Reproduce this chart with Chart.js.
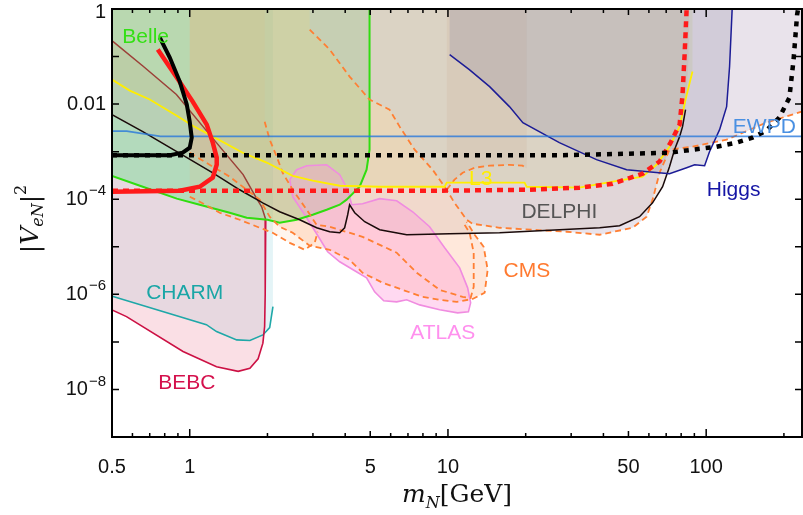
<!DOCTYPE html>
<html>
<head>
<meta charset="utf-8">
<script src="https://cdn.jsdelivr.net/npm/chart.js@4.4.1/dist/chart.umd.min.js"></script>
<style>
  body { margin: 0; background: #fff; }
</style>
</head>
<body>
<canvas id="c" width="803" height="515"></canvas>
<script>
// ---- curves (x = m_N in GeV, y = |V_eN|^2) ----
const charmX = [0.45, 0.505, 1.16, 1.27, 1.52, 1.71, 1.92, 2.04, 2.10];
const charmY = [1.0e-6, 9.0e-7, 2.3e-7, 1.65e-7, 1.1e-7, 1.07e-7, 1.4e-7, 2.0e-7, 5.5e-7];

const bebcTopX = [0.45, 0.512, 0.66, 0.888, 1.195, 1.61, 1.81, 1.90, 1.97];
const bebcTopY = [0.35, 0.194, 0.0625, 0.0159, 2.28e-3, 3.3e-4, 1.07e-4, 6.9e-5, 3.7e-5];
const bebcLowX = [1.97, 1.96, 1.95, 1.92, 1.84, 1.71, 1.54, 1.27, 0.942, 0.569, 0.5, 0.45];
const bebcLowY = [3.7e-5, 1.0e-6, 2.1e-7, 9.4e-8, 4.4e-8, 2.8e-8, 2.4e-8, 3.0e-8, 6.3e-8, 3.4e-7, 4.7e-7, 6.0e-7];

const belleX = [0.5, 0.658, 0.891, 1.093, 1.428, 1.662, 2.0, 2.23, 2.595, 2.993, 3.39, 3.81, 4.05, 4.55, 4.84, 4.97, 4.97];
const belleY = [3.1e-4, 1.83e-4, 1.03e-4, 7.66e-5, 5.2e-5, 4.07e-5, 3.7e-5, 3.2e-5, 3.7e-5, 4.72e-5, 6.0e-5, 7.66e-5, 9.8e-5, 1.83e-4, 4.18e-4, 1.1e-3, 1.5];

const delphiX = [0.5, 0.658, 0.891, 1.228, 1.561, 1.917, 2.23, 2.666, 3.10, 3.483, 3.81, 3.98, 4.09, 4.16, 4.355, 4.76, 5.44, 6.92, 10.15, 15.85, 27.05, 38.7, 46.2, 55.2, 62.0, 67.8, 72.1, 75.4, 78.9, 81.0, 83.2];
const delphiY = [6.0e-3, 2.64e-3, 1.0e-3, 3.6e-4, 1.58e-4, 8.4e-5, 5.45e-5, 3.7e-5, 2.51e-5, 2.07e-5, 1.97e-5, 2.51e-5, 4.72e-5, 7.66e-5, 5.2e-5, 3.36e-5, 2.28e-5, 1.79e-5, 1.88e-5, 1.97e-5, 2.28e-5, 2.51e-5, 2.77e-5, 4.28e-5, 8.4e-5, 1.83e-4, 4.83e-4, 1.1e-3, 2.07e-3, 3.36e-3, 7.66e-3];

const l3X = [0.5, 0.586, 0.70, 0.891, 1.027, 1.206, 1.604, 1.986, 2.505, 2.993, 3.81, 5.44, 9.71, 9.89, 19.8, 20.17, 32.3, 43.4, 56.7, 64.2, 72.1, 78.9, 83.2, 88.5];
const l3Y = [0.0328, 0.0192, 0.0125, 5.7e-3, 3.5e-3, 2.2e-3, 9.5e-4, 5.9e-4, 3.1e-4, 2.45e-4, 1.92e-4, 1.83e-4, 1.83e-4, 2.23e-4, 2.23e-4, 1.83e-4, 1.75e-4, 2.34e-4, 2.98e-4, 5.3e-4, 1.27e-3, 3.36e-3, 0.01245, 0.0483];

const higgsX = [10.15, 12.1, 14.5, 17.3, 19.5, 27.0, 37.6, 49.2, 72.1, 84.0, 90.2, 98.6, 103, 112.7, 120, 123.2, 126.5];
const higgsY = [0.110, 0.0532, 0.0233, 8.86e-3, 4.08e-3, 1.55e-3, 6.8e-4, 4.18e-4, 3.44e-4, 4.6e-4, 5.3e-4, 5.07e-4, 1.0e-3, 2.9e-3, 8.86e-3, 0.0616, 1.5];

const ewpdX = [0.5, 0.57, 0.77, 240];
const ewpdY = [2.7e-3, 2.7e-3, 2.1e-3, 2.1e-3];

// CMS: upper edge, prompt lower edge, displaced contours
const cmsUpX = [2.914, 3.483, 4.16, 4.97, 5.94, 6.50, 7.43, 8.72, 9.89, 10.6, 11.81];
const cmsUpY = [0.37, 0.14, 0.0379, 0.01245, 7.66e-3, 3.36e-3, 1.1e-3, 4.18e-4, 1.58e-4, 8.4e-5, 3.7e-5];
const cmsLowX = [12.46, 15.85, 21.28, 28.8, 38.7, 51.9, 58.8, 62.0, 66.0, 72.1, 88.5, 120, 171, 234, 260];
const cmsLowY = [3.05e-5, 2.51e-5, 2.28e-5, 2.07e-5, 1.79e-5, 2.51e-5, 4.28e-5, 9.8e-5, 3.6e-4, 1.1e-3, 1.27e-3, 1.79e-3, 4.08e-3, 6.95e-3, 7.8e-3];
const cmsDispX = [1.0, 1.228, 1.428, 1.662, 1.866, 2.04, 2.23, 2.505, 2.914, 3.483, 4.16, 4.67, 5.59, 6.68, 7.98, 9.29, 10.81, 12.46, 13.87, 14.25, 13.75, 12.69, 11.81];
const cmsDispY = [9.5e-4, 4.83e-4, 2.98e-4, 1.58e-4, 9.8e-5, 4.28e-5, 2.64e-5, 1.97e-5, 1.05e-5, 8.65e-6, 5.3e-6, 2.84e-6, 1.75e-6, 1.24e-6, 8.86e-7, 7.66e-7, 6.95e-7, 8.0e-7, 1.08e-6, 3.28e-6, 1.0e-5, 1.79e-5, 3.36e-5];
const cmsAX = [1.951, 2.04, 2.173, 2.29, 2.505, 2.838, 3.10];
const cmsAY = [4.28e-3, 1.79e-3, 7.85e-4, 3.6e-4, 1.58e-4, 6.0e-5, 2.9e-5];
const cmsInX = [3.483, 4.67, 6.33, 7.57, 9.29, 11.4, 12.24, 12.58, 12.58, 12.13, 11.6];
const cmsInY = [2.64e-5, 1.62e-5, 7.5e-6, 2.84e-6, 1.24e-6, 8.86e-7, 8.4e-7, 1.44e-6, 7.5e-6, 1.97e-5, 2.9e-5];
const cmsCX = [1.0, 1.093, 1.306, 1.561, 1.866, 2.095, 2.44, 2.788, 3.047, 3.13];
const cmsCY = [1.13e-4, 8.86e-5, 5.2e-5, 3.7e-5, 2.51e-5, 1.97e-5, 1.21e-5, 8.65e-6, 1.21e-5, 2.07e-5];
const humpX = [9.89, 10.6, 11.4, 12.69, 14.5, 17.3, 19.46, 20.17];
const humpY = [1.58e-4, 2.58e-4, 3.6e-4, 4.6e-4, 5.07e-4, 5.3e-4, 5.07e-4, 4.4e-4];

const atlasX = [2.505, 2.44, 2.595, 2.838, 3.39, 3.81, 4.09, 4.24, 4.67, 5.44, 6.33, 7.30, 8.49, 9.71, 11.1, 11.92, 12.24, 12.0, 10.9, 9.29, 7.77, 6.92, 6.33, 5.64, 5.20, 4.84, 4.355, 3.81, 3.42, 3.10, 2.788, 2.505];
const atlasY = [1.13e-4, 2.58e-4, 4.18e-4, 5.07e-4, 5.3e-4, 3.28e-4, 1.58e-4, 7.66e-5, 8.0e-5, 1.03e-4, 9.3e-5, 5.45e-5, 2.64e-5, 9.5e-6, 3.6e-6, 1.37e-6, 6.62e-7, 4.28e-7, 4.08e-7, 4.72e-7, 6.0e-7, 7.66e-7, 6.95e-7, 7.3e-7, 1.13e-6, 2.22e-6, 3.13e-6, 4.83e-6, 7.85e-6, 1.88e-5, 4.72e-5, 1.13e-4];

// projections
const redX = [0.752, 0.891, 1.027, 1.164, 1.228, 1.272, 1.272, 1.228, 1.093, 0.915, 0.5];
const redY = [0.14, 0.0361, 0.0113, 3.7e-3, 1.55e-3, 7.48e-4, 5.3e-4, 2.84e-4, 1.83e-4, 1.51e-4, 1.44e-4];
const redDotX = [0.5, 9.29, 20.17, 32.3, 43.4, 56.7, 66.0, 72.8, 78.9, 81.0, 82.5, 84.0];
const redDotY = [1.51e-4, 1.51e-4, 1.58e-4, 1.75e-4, 2.12e-4, 3.44e-4, 6.2e-4, 1.55e-3, 3.7e-3, 0.0158, 0.11, 1];
const blkX = [0.766, 0.837, 0.915, 0.974, 1.0, 1.018, 1.0, 0.939, 0.837, 0.5];
const blkY = [0.251, 0.0953, 0.0298, 9.8e-3, 4.28e-3, 1.97e-3, 1.21e-3, 9.5e-4, 8.4e-4, 8.4e-4];
const blkDotX = [0.5, 27.05, 72.1, 88.5, 109.7, 131, 151, 171, 192, 210, 218, 225, 227];
const blkDotY = [8.4e-4, 8.4e-4, 9.5e-4, 1.1e-3, 1.27e-3, 1.55e-3, 1.97e-3, 2.77e-3, 5.2e-3, 0.0137, 0.0865, 0.766, 1];

// region names
const labelText = ['Belle', 'CHARM', 'BEBC', 'ATLAS', 'CMS', 'DELPHI', 'L3', 'Higgs', 'EWPD'];
const labelX = [0.675, 0.956, 0.974, 9.54, 20.2, 27.0, 13.4, 127.7, 168];
const labelY = [0.25, 1.08e-6, 1.37e-8, 1.55e-7, 3.1e-6, 5.45e-5, 2.58e-4, 1.58e-4, 3.2e-3];
const labelColor = ['#33e014', '#1aa6a6', '#d4104c', '#ff90ee', '#ff7a30', '#555555', '#ffee00', '#1515a5', '#4a90e2'];

// axes
const xTickVals = [0.5, 0.6, 0.7, 0.8, 0.9, 1, 2, 3, 4, 5, 6, 7, 8, 9, 10, 20, 30, 40, 50, 60, 70, 80, 90, 100, 200];
const xMajorVals = [1, 10, 100];
const xLabelVals = [0.5, 1, 5, 10, 50, 100];
const xLabelText = ['0.5', '1', '5', '10', '50', '100'];
const yTickVals = [1, 0.1, 0.01, 1e-3, 1e-4, 1e-5, 1e-6, 1e-7, 1e-8, 1e-9];
const yLabelVals = [1, 0.01, 1e-4, 1e-6, 1e-8];
const yLabelBase = ['1', '0.01', '10', '10', '10'];
const yLabelExp = ['', '', '\u22124', '\u22126', '\u22128'];

const pts = (xs, ys) => xs.map((x, i) => ({ x: x, y: ys[i] }));

const layers = [];  // bottom first
function area(data, color, border, width) {
    layers.push({ data: data, fill: 'shape', backgroundColor: color,
                  borderColor: border || 'transparent', borderWidth: width || 0 });
}
function curve(data, color, width, dash) {
    layers.push({ data: data, fill: false, borderColor: color, borderWidth: width, borderDash: dash || [] });
}

// filled regions
area(pts(charmX, charmY).concat(pts([2.10, 0.45], [2, 2])), 'rgba(167,217,230,0.3)');
area(pts(bebcTopX, bebcTopY).concat(pts(bebcLowX, bebcLowY).slice(1)), 'rgba(240,150,170,0.3)');
area(pts(belleX, belleY).concat(pts([4.97, 0.45, 0.45], [2, 2, 3.1e-4])), 'rgba(80,220,120,0.35)');
area(pts(cmsDispX, cmsDispY).concat(pts(cmsUpX, cmsUpY).reverse(), pts([2.914, 1.0], [2, 2])), 'rgba(255,165,110,0.25)');
area(pts([1.951], [2]).concat(pts(cmsAX, cmsAY), pts(cmsCX, cmsCY).reverse(), pts([1.0], [2])), 'rgba(255,170,110,0.12)');
area(pts(cmsUpX, cmsUpY).concat(pts(cmsLowX, cmsLowY), pts([260, 2.914], [2, 2])), 'rgba(200,185,205,0.4)');
area(pts(humpX, humpY).concat(pts([20.17, 9.89], [2, 2])), 'rgba(170,110,90,0.12)');
area(pts(l3X, l3Y).concat(pts([88.5, 0.45, 0.45], [2, 2, 0.0328])), 'rgba(200,210,110,0.22)');
area(pts(delphiX, delphiY).concat(pts([85.4, 86.3, 0.45, 0.45], [0.086, 2, 2, 6e-3])), 'rgba(200,175,160,0.25)');
area(pts(higgsX, higgsY).concat(pts([126.5, 10.15], [2, 2])), 'rgba(141,135,165,0.25)');
area(pts(atlasX, atlasY), 'rgba(255,150,215,0.36)', '#f08ce0', 1.6);

// boundary lines
curve(pts(charmX, charmY), '#1fa8a8', 1.6);
curve(pts(bebcLowX, bebcLowY), '#cc1144', 1.6);
curve(pts(bebcTopX, bebcTopY), '#9c4038', 1.5);
curve(pts(belleX, belleY), '#30dd10', 2);
curve(pts(cmsDispX, cmsDispY), '#ff7f33', 1.8, [6, 4]);
curve(pts(cmsAX, cmsAY).concat(pts(cmsInX, cmsInY)), '#ff7f33', 1.8, [6, 4]);
curve(pts(cmsCX, cmsCY), '#ff7f33', 1.8, [6, 4]);
curve(pts(cmsUpX, cmsUpY).concat(pts(cmsLowX, cmsLowY)), '#ff7f33', 1.8, [6, 4]);
curve(pts(humpX, humpY), '#ff7f33', 1.8, [6, 4]);
curve(pts(delphiX, delphiY), '#1a0a0a', 1.5);
curve(pts(l3X, l3Y), '#ffee00', 1.8);
curve(pts(higgsX, higgsY), '#1c1c96', 1.5);
curve(pts(ewpdX, ewpdY), 'rgba(40,120,220,0.8)', 1.6);
curve(pts(redDotX, redDotY), '#ff1a1a', 4.5, [6, 5]);
curve(pts(blkDotX, blkDotY), '#000000', 4.5, [5, 6]);
curve(pts(redX, redY), '#ff1a1a', 4.5);
curve(pts(blkX, blkY), '#000000', 4);

const datasets = layers.map((d, i) => Object.assign({
    type: 'line', pointRadius: 0, tension: 0, clip: 0, order: layers.length - i
}, d));

function drawRich(ctx, parts, x, y) {
    // parts: [text, font, dy]
    let w = 0;
    parts.forEach(p => { ctx.font = p[1]; w += ctx.measureText(p[0]).width; });
    let cx = x - w / 2;
    parts.forEach(p => {
        ctx.font = p[1];
        ctx.fillText(p[0], cx, y + p[2]);
        cx += ctx.measureText(p[0]).width;
    });
}

const framePlugin = {
    id: 'frame',
    afterDraw(chart) {
        const { ctx, chartArea: a, scales: { x, y } } = chart;
        ctx.save();

        // region names
        ctx.font = '21px "Liberation Sans", Arial, sans-serif';
        ctx.textAlign = 'center';
        ctx.textBaseline = 'middle';
        labelText.forEach((t, i) => {
            ctx.fillStyle = labelColor[i];
            ctx.fillText(t, x.getPixelForValue(labelX[i]), y.getPixelForValue(labelY[i]));
        });

        // frame
        ctx.strokeStyle = '#000';
        ctx.lineWidth = 2;
        ctx.strokeRect(a.left, a.top, a.right - a.left, a.bottom - a.top);

        // ticks, all pointing inwards
        ctx.lineWidth = 1.5;
        ctx.beginPath();
        xTickVals.forEach(v => {
            const px = x.getPixelForValue(v);
            const len = xMajorVals.includes(v) ? 8 : (xLabelVals.includes(v) ? 6 : 4);
            ctx.moveTo(px, a.bottom); ctx.lineTo(px, a.bottom - len);
            ctx.moveTo(px, a.top); ctx.lineTo(px, a.top + len);
        });
        yTickVals.forEach(v => {
            const py = y.getPixelForValue(v);
            ctx.moveTo(a.left, py); ctx.lineTo(a.left + 7, py);
            ctx.moveTo(a.right, py); ctx.lineTo(a.right - 7, py);
        });
        ctx.stroke();

        // tick labels
        ctx.fillStyle = '#111';
        ctx.font = '20px "Liberation Sans", Arial, sans-serif';
        ctx.textAlign = 'center';
        xLabelVals.forEach((v, i) => {
            ctx.fillText(xLabelText[i], x.getPixelForValue(v), 467);
        });
        yLabelVals.forEach((v, i) => {
            const py = y.getPixelForValue(v);
            let right = a.left - 6;
            ctx.textAlign = 'left';
            if (yLabelExp[i]) {
                ctx.font = '15px "Liberation Sans", Arial, sans-serif';
                const we = ctx.measureText(yLabelExp[i]).width;
                right -= we;
                ctx.fillText(yLabelExp[i], right, py - 8);
                right -= 1;
            }
            ctx.font = '20px "Liberation Sans", Arial, sans-serif';
            ctx.textAlign = 'right';
            ctx.fillText(yLabelBase[i], right, py + (i === 0 ? 3 : 0));
        });

        // axis titles
        ctx.textAlign = 'left';
        ctx.textBaseline = 'alphabetic';
        ctx.fillStyle = '#111';
        const serif = '"DejaVu Serif", "Liberation Serif", serif';
        drawRich(ctx, [
            ['m', 'italic 25px ' + serif, 0],
            ['N', 'italic 16px ' + serif, 6],
            ['[GeV]', '25px ' + serif, 0]
        ], (a.left + a.right) / 2, 502);

        ctx.translate(38, (a.top + a.bottom) / 2 - 4);
        ctx.rotate(-Math.PI / 2);
        drawRich(ctx, [
            ['|', '25px ' + serif, 0],
            ['V', 'italic 25px ' + serif, 0],
            ['eN', 'italic 16px ' + serif, 5],
            ['|', '25px ' + serif, 0],
            ['2', '16px ' + serif, -12]
        ], 0, 0);
        ctx.restore();
    }
};

new Chart(document.getElementById('c'), {
    type: 'line',
    data: { datasets: datasets },
    options: {
        responsive: false,
        animation: false,
        devicePixelRatio: 1,
        layout: { padding: { left: 112, right: 1, top: 9, bottom: 78 } },
        plugins: { legend: { display: false }, tooltip: { enabled: false } },
        scales: {
            x: { type: 'logarithmic', min: 0.5, max: 235, display: false },
            y: { type: 'logarithmic', min: 1e-9, max: 1, display: false }
        }
    },
    plugins: [framePlugin]
});
</script>
</body>
</html>
